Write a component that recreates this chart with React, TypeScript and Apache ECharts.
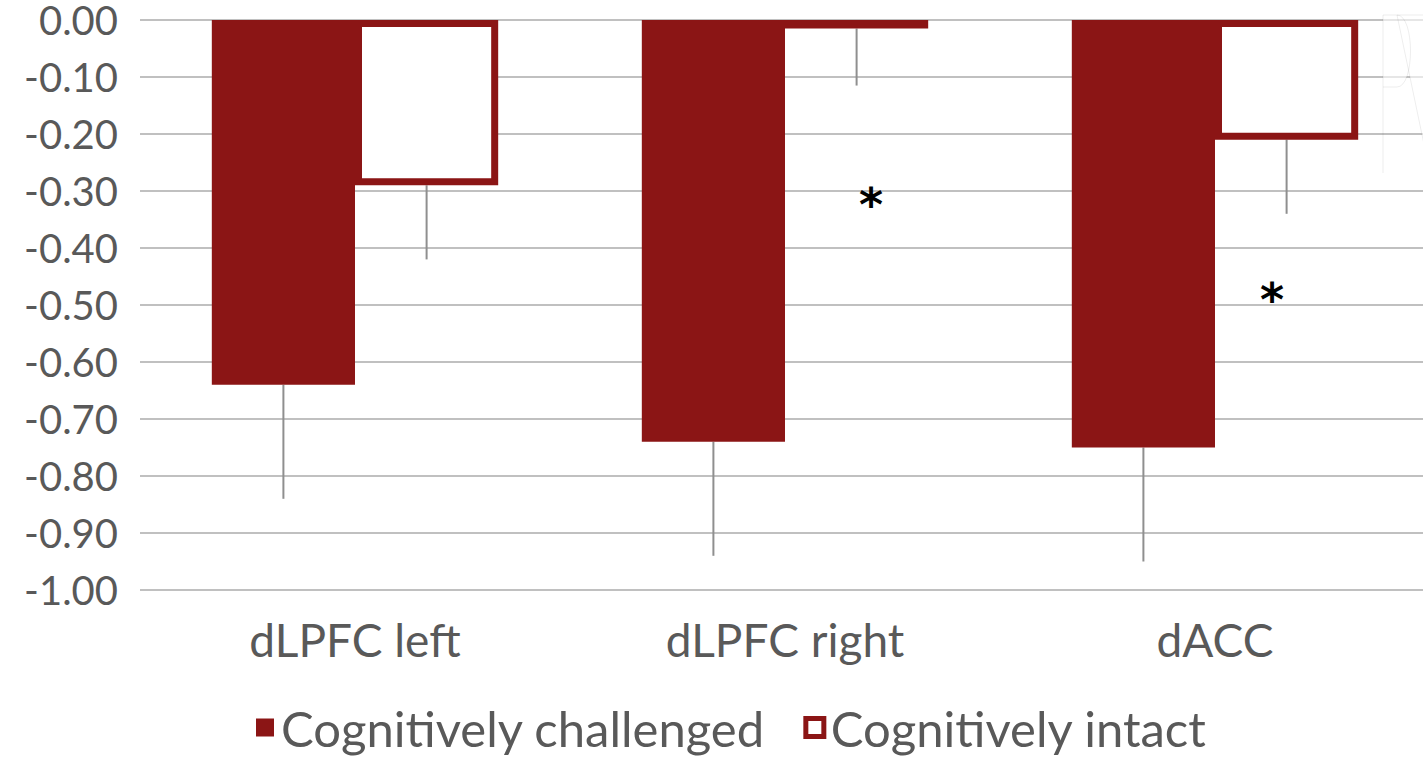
import React, { useEffect, useRef } from "react";
import * as echarts from "echarts";

// Regions of interest and the two groups
const categories = ["dLPFC left", "dLPFC right", "dACC"];
const challenged = [-0.64, -0.74, -0.75];
const intact = [-0.29, -0.015, -0.21];
// One-sided (downward) error bars
const challengedErr = [0.2, 0.2, 0.2];
const intactErr = [0.13, 0.1, 0.13];

const yMin = -1;
const yMax = 0;
const yStep = 0.1;

const seriesNames = ["Cognitively challenged", "Cognitively intact"];

const RED = "#8b1515";
const TEXT = "#595959";
const GRID = "#c0c0c0";
const ERR = "#8f8f8f";
const BAR_FRACTION = 0.333;

// Faint partial overlay shape at the right edge
echarts.graphic.registerShape(
  "edgeMark",
  echarts.graphic.extendPath(
    "M1383 173 L1383 15 L1397 15 C1415 15 1415 87 1397 87 L1383 87 M1397 15 L1430 15 L1430 173 Z",
    {}
  )
);

function errorBarSeries(values: number[], errs: number[], side: number) {
  return {
    type: "custom",
    z: 1,
    silent: true,
    data: values.map((v, i) => [i, v, errs[i]]),
    encode: { x: 0, y: 1 },
    renderItem: (_params: any, api: any) => {
      const idx = api.value(0);
      const v = api.value(1);
      const e = api.value(2);
      const p0 = api.coord([idx, v]);
      const p1 = api.coord([idx, v - e]);
      const band = api.size([1, 0])[0];
      const off = ((band * BAR_FRACTION) / 2) * side;
      return {
        type: "line",
        shape: { x1: p0[0] + off, y1: p0[1], x2: p1[0] + off, y2: p1[1] },
        style: { stroke: ERR, lineWidth: 2 },
      };
    },
  };
}

const asteriskStyle = {
  text: "*",
  font: "bold 46px 'DejaVu Sans'",
  fill: "#000000",
  align: "center",
  verticalAlign: "middle",
};

export default function App() {
  const ref = useRef<HTMLDivElement>(null);

  useEffect(() => {
    if (!ref.current) return;
    const chart = echarts.init(ref.current, null, { renderer: "svg" });

    const option: any = {
      animation: false,
      backgroundColor: "#ffffff",
      // the canvas is a few pixels wider than the window, so the plot runs off the right edge
      grid: { left: 140, right: 0, top: 20, bottom: 169, containLabel: false },
      xAxis: {
        type: "category",
        data: categories,
        position: "bottom",
        axisLine: { show: false, onZero: false },
        axisTick: { show: false },
        axisLabel: {
          color: TEXT,
          fontFamily: "Lato",
          fontSize: 46,
          margin: 26,
        },
      },
      yAxis: {
        type: "value",
        min: yMin,
        max: yMax,
        interval: yStep,
        axisLine: { show: false },
        axisTick: { show: false },
        axisLabel: {
          color: TEXT,
          fontFamily: "Lato",
          fontSize: 40,
          margin: 22,
          padding: [6, 0, 0, 0],
          formatter: (v: number) => v.toFixed(2),
        },
        splitLine: { show: true, lineStyle: { color: GRID, width: 2 } },
      },
      legend: {
        bottom: 2,
        left: 251,
        itemWidth: 18,
        itemHeight: 18,
        itemGap: 38,
        textStyle: {
          color: TEXT,
          fontFamily: "Lato",
          fontSize: 49,
          padding: [0, 0, 0, 2],
        },
        data: [
          { name: seriesNames[0], icon: "rect" },
          {
            name: seriesNames[1],
            icon: "rect",
            itemStyle: { color: "#ffffff", borderColor: RED, borderWidth: 5 },
          },
        ],
      },
      series: [
        {
          name: seriesNames[0],
          type: "bar",
          z: 2,
          data: challenged,
          barWidth: BAR_FRACTION * 100 + "%",
          barGap: "0%",
          itemStyle: { color: RED },
        },
        {
          name: seriesNames[1],
          type: "bar",
          z: 2,
          data: intact,
          barWidth: BAR_FRACTION * 100 + "%",
          barGap: "0%",
          itemStyle: { color: "#ffffff", borderColor: RED, borderWidth: 7 },
        },
        errorBarSeries(challenged, challengedErr, -1),
        errorBarSeries(intact, intactErr, 1),
      ],
      graphic: [
        {
          type: "edgeMark",
          x: 0,
          y: 0,
          z: 5,
          silent: true,
          style: {
            fill: "rgba(255,255,255,0.6)",
            stroke: "rgba(0,0,0,0.07)",
            lineWidth: 1,
          },
        },
        { type: "text", x: 871, y: 205, z: 10, style: asteriskStyle },
        { type: "text", x: 1272, y: 300, z: 10, style: asteriskStyle },
      ],
    };

    chart.setOption(option);
    return () => chart.dispose();
  }, []);

  return (
    <div style={{ position: "fixed", inset: 0, overflow: "hidden" }}>
      <div
        ref={ref}
        style={{ position: "absolute", left: 0, top: 0, width: 1430, height: 759 }}
      />
    </div>
  );
}
